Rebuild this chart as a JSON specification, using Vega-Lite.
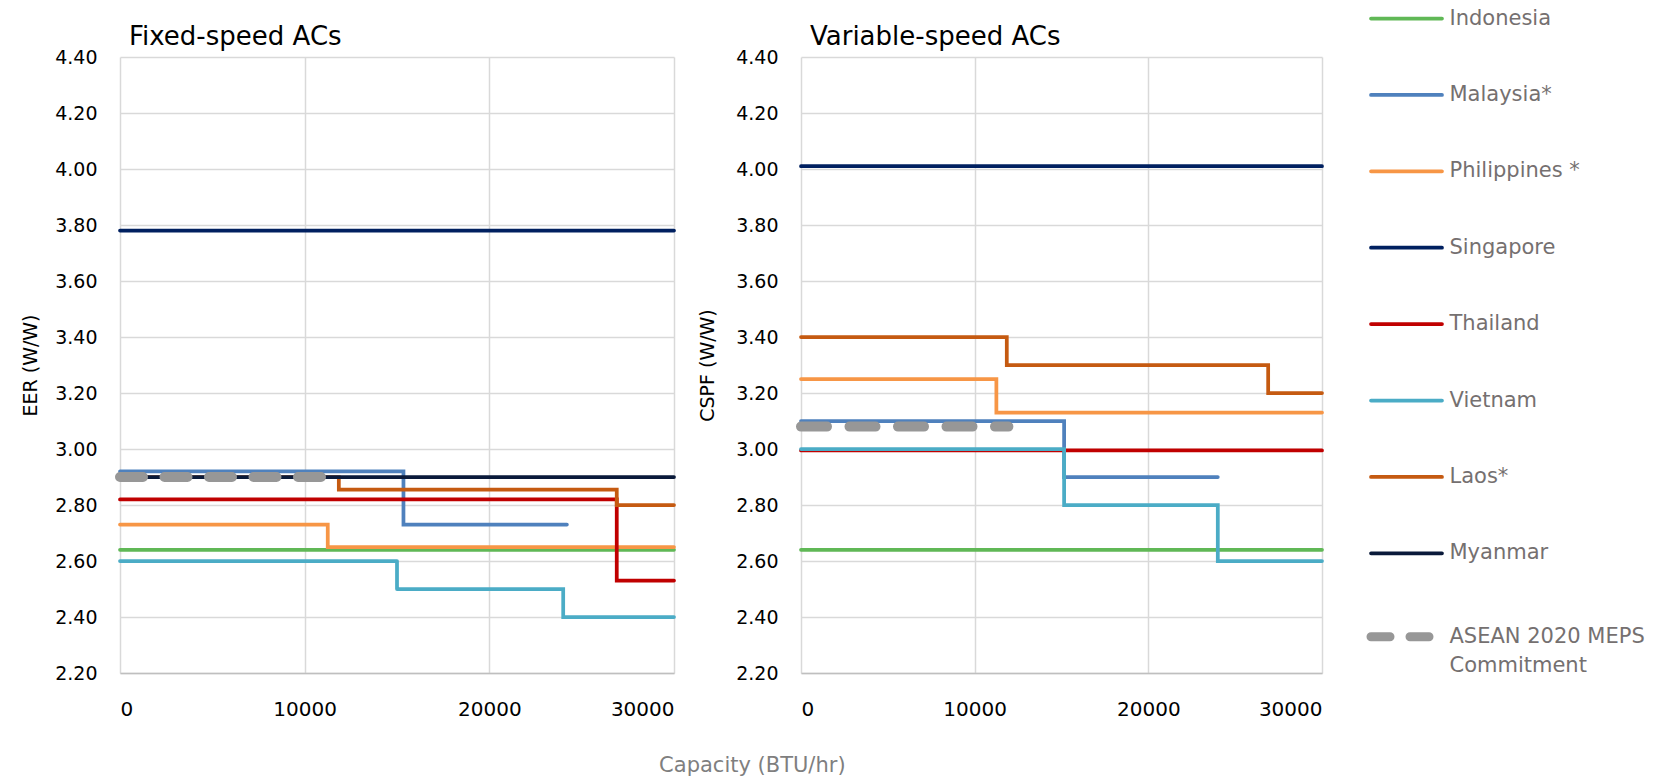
{
  "$schema": "https://vega.github.io/schema/vega-lite/v6.json",
  "description": "Air-conditioner efficiency standards (MEPS) by cooling capacity, fixed- and variable-speed units",
  "background": "white",
  "padding": {"left": 21, "top": 8, "right": 10, "bottom": 5},
  "bounds": "flush",
  "config": {
    "font": "DejaVu Sans",
    "view": {"stroke": null},
    "concat": {"spacing": 127},
    "axis": {
      "grid": true,
      "gridColor": "#D9D9D9",
      "gridWidth": 1.5,
      "ticks": false,
      "labelFont": "DejaVu Sans",
      "labelFontSize": 19,
      "labelColor": "#000000",
      "titleFont": "DejaVu Sans",
      "titleFontSize": 19,
      "titleFontWeight": "normal",
      "titleColor": "#000000"
    },
    "legend": {
      "orient": "none",
      "legendX": 1276,
      "legendY": -49,
      "padding": 0,
      "title": null,
      "columns": 1,
      "symbolType": "M-2.958,0H2.958",
      "symbolSize": 576,
      "symbolStrokeWidth": 3.75,
      "rowPadding": 54.4,
      "labelOffset": 32.5,
      "labelFont": "DejaVu Sans",
      "labelFontSize": 21,
      "labelColor": "#757070",
      "labelLimit": 300,
      "labelBaseline": "middle"
    },
    "title": {"font": "DejaVu Sans", "fontWeight": "normal"}
  },
  "data": {
    "values": [
      {"panel": "fixed", "country": "Indonesia", "capacity": 0, "value": 2.64},
      {"panel": "fixed", "country": "Indonesia", "capacity": 30000, "value": 2.64},
      {"panel": "fixed", "country": "Malaysia*", "capacity": 0, "value": 2.92},
      {"panel": "fixed", "country": "Malaysia*", "capacity": 15350, "value": 2.73},
      {"panel": "fixed", "country": "Malaysia*", "capacity": 24200, "value": 2.73},
      {"panel": "fixed", "country": "Philippines *", "capacity": 0, "value": 2.73},
      {"panel": "fixed", "country": "Philippines *", "capacity": 11250, "value": 2.65},
      {"panel": "fixed", "country": "Philippines *", "capacity": 30000, "value": 2.65},
      {"panel": "fixed", "country": "Singapore", "capacity": 0, "value": 3.78},
      {"panel": "fixed", "country": "Singapore", "capacity": 30000, "value": 3.78},
      {"panel": "fixed", "country": "Thailand", "capacity": 0, "value": 2.82},
      {"panel": "fixed", "country": "Thailand", "capacity": 26900, "value": 2.53},
      {"panel": "fixed", "country": "Thailand", "capacity": 30000, "value": 2.53},
      {"panel": "fixed", "country": "Vietnam", "capacity": 0, "value": 2.6},
      {"panel": "fixed", "country": "Vietnam", "capacity": 15000, "value": 2.5},
      {"panel": "fixed", "country": "Vietnam", "capacity": 24000, "value": 2.4},
      {"panel": "fixed", "country": "Vietnam", "capacity": 30000, "value": 2.4},
      {"panel": "fixed", "country": "Laos*", "capacity": 0, "value": 2.9},
      {"panel": "fixed", "country": "Laos*", "capacity": 11850, "value": 2.855},
      {"panel": "fixed", "country": "Laos*", "capacity": 26900, "value": 2.8},
      {"panel": "fixed", "country": "Laos*", "capacity": 30000, "value": 2.8},
      {"panel": "fixed", "country": "Myanmar", "capacity": 0, "value": 2.9},
      {"panel": "fixed", "country": "Myanmar", "capacity": 30000, "value": 2.9},
      {"panel": "fixed", "country": "ASEAN 2020 MEPS Commitment", "capacity": 0, "value": 2.9},
      {"panel": "fixed", "country": "ASEAN 2020 MEPS Commitment", "capacity": 11942, "value": 2.9},
      {"panel": "variable", "country": "Indonesia", "capacity": 0, "value": 2.64},
      {"panel": "variable", "country": "Indonesia", "capacity": 30000, "value": 2.64},
      {"panel": "variable", "country": "Malaysia*", "capacity": 0, "value": 3.1},
      {"panel": "variable", "country": "Malaysia*", "capacity": 15150, "value": 2.9},
      {"panel": "variable", "country": "Malaysia*", "capacity": 24000, "value": 2.9},
      {"panel": "variable", "country": "Philippines *", "capacity": 0, "value": 3.25},
      {"panel": "variable", "country": "Philippines *", "capacity": 11250, "value": 3.13},
      {"panel": "variable", "country": "Philippines *", "capacity": 30000, "value": 3.13},
      {"panel": "variable", "country": "Singapore", "capacity": 0, "value": 4.01},
      {"panel": "variable", "country": "Singapore", "capacity": 30000, "value": 4.01},
      {"panel": "variable", "country": "Thailand", "capacity": 0, "value": 2.995},
      {"panel": "variable", "country": "Thailand", "capacity": 30000, "value": 2.995},
      {"panel": "variable", "country": "Vietnam", "capacity": 0, "value": 3.0},
      {"panel": "variable", "country": "Vietnam", "capacity": 15150, "value": 2.8},
      {"panel": "variable", "country": "Vietnam", "capacity": 24000, "value": 2.6},
      {"panel": "variable", "country": "Vietnam", "capacity": 30000, "value": 2.6},
      {"panel": "variable", "country": "Laos*", "capacity": 0, "value": 3.4},
      {"panel": "variable", "country": "Laos*", "capacity": 11850, "value": 3.3},
      {"panel": "variable", "country": "Laos*", "capacity": 26900, "value": 3.2},
      {"panel": "variable", "country": "Laos*", "capacity": 30000, "value": 3.2},
      {"panel": "variable", "country": "ASEAN 2020 MEPS Commitment", "capacity": 0, "value": 3.08},
      {"panel": "variable", "country": "ASEAN 2020 MEPS Commitment", "capacity": 11942, "value": 3.08}
    ]
  },
  "title": {
    "text": "Capacity (BTU/hr)",
    "orient": "bottom",
    "anchor": "middle",
    "fontSize": 21,
    "color": "#7F7F7F",
    "offset": 36,
    "dx": -81
  },
  "hconcat": [
    {
      "width": 554,
      "height": 616,
      "title": {"text": "Fixed-speed ACs", "anchor": "start", "frame": "group", "fontSize": 26, "color": "#000000", "dx": 9, "offset": -2},
      "transform": [{"filter": "datum.panel == 'fixed'"}],
      "encoding": {
        "x": {"field": "capacity", "type": "quantitative", "title": null,
              "scale": {"domain": [0, 30000], "nice": false},
              "axis": {"values": [0, 10000, 20000, 30000], "format": "d", "labelFontSize": 20, "labelPadding": 26, "domain": true, "domainColor": "#BFBFBF", "domainWidth": 1.5}},
        "y": {"field": "value", "type": "quantitative", "title": "EER (W/W)",
              "scale": {"domain": [2.2, 4.4], "nice": false, "zero": false},
              "axis": {"values": [2.2, 2.4, 2.6, 2.8, 3.0, 3.2, 3.4, 3.6, 3.8, 4.0, 4.2, 4.4], "format": ".2f", "labelPadding": 23, "titlePadding": 14, "domain": false}},
        "color": {"field": "country", "type": "nominal",
                  "scale": {"domain": ["Indonesia", "Malaysia*", "Philippines *", "Singapore", "Thailand", "Vietnam", "Laos*", "Myanmar", "ASEAN 2020 MEPS Commitment"],
                            "range": ["#60B856", "#4F81BD", "#F79646", "#002060", "#C00000", "#4BACC6", "#C55A11", "#0A1A3A", "#979797"]},
                  "legend": {
                    "labelExpr": "datum.label == 'ASEAN 2020 MEPS Commitment' ? ['ASEAN 2020 MEPS', 'Commitment'] : datum.label",
                    "encode": {
                      "symbols": {"update": {"strokeWidth": {"signal": "datum.value === 'ASEAN 2020 MEPS Commitment' ? 9 : 3.75"}, "strokeCap": {"value": "round"}}},
                      "labels": {"update": {"lineHeight": {"value": 29}}}
                    }
                  }}
      },
      "layer": [
        {
          "transform": [{"filter": "datum.country != 'ASEAN 2020 MEPS Commitment'"}],
          "mark": {"type": "line", "interpolate": "step-after", "strokeCap": "round", "strokeJoin": "miter", "strokeWidth": 3.75},
          "encoding": {
            "strokeDash": {"field": "country", "type": "nominal",
                  "scale": {"domain": ["Indonesia", "Malaysia*", "Philippines *", "Singapore", "Thailand", "Vietnam", "Laos*", "Myanmar", "ASEAN 2020 MEPS Commitment"],
                            "range": [[1, 0], [1, 0], [1, 0], [1, 0], [1, 0], [1, 0], [1, 0], [1, 0], [19, 20]]},
                  "legend": {
                    "labelExpr": "datum.label == 'ASEAN 2020 MEPS Commitment' ? ['ASEAN 2020 MEPS', 'Commitment'] : datum.label",
                    "encode": {
                      "symbols": {"update": {"strokeWidth": {"signal": "datum.value === 'ASEAN 2020 MEPS Commitment' ? 9 : 3.75"}, "strokeCap": {"value": "round"}}},
                      "labels": {"update": {"lineHeight": {"value": 29}}}
                    }
                  }}
          }
        },
        {
          "transform": [{"filter": "datum.country == 'ASEAN 2020 MEPS Commitment'"}],
          "mark": {"type": "line", "interpolate": "step-after", "strokeCap": "round", "strokeWidth": 10, "strokeDash": [23, 21.5]}
        }
      ]
    },
    {
      "width": 521,
      "height": 616,
      "title": {"text": "Variable-speed ACs", "anchor": "start", "frame": "group", "fontSize": 26, "color": "#000000", "dx": 9, "offset": -2},
      "transform": [{"filter": "datum.panel == 'variable'"}],
      "encoding": {
        "x": {"field": "capacity", "type": "quantitative", "title": null,
              "scale": {"domain": [0, 30000], "nice": false},
              "axis": {"values": [0, 10000, 20000, 30000], "format": "d", "labelFontSize": 20, "labelPadding": 26, "domain": true, "domainColor": "#BFBFBF", "domainWidth": 1.5}},
        "y": {"field": "value", "type": "quantitative", "title": "CSPF (W/W)",
              "scale": {"domain": [2.2, 4.4], "nice": false, "zero": false},
              "axis": {"values": [2.2, 2.4, 2.6, 2.8, 3.0, 3.2, 3.4, 3.6, 3.8, 4.0, 4.2, 4.4], "format": ".2f", "labelPadding": 23, "titlePadding": 18, "domain": false}},
        "color": {"field": "country", "type": "nominal",
                  "scale": {"domain": ["Indonesia", "Malaysia*", "Philippines *", "Singapore", "Thailand", "Vietnam", "Laos*", "Myanmar", "ASEAN 2020 MEPS Commitment"],
                            "range": ["#60B856", "#4F81BD", "#F79646", "#002060", "#C00000", "#4BACC6", "#C55A11", "#0A1A3A", "#979797"]}}
      },
      "layer": [
        {
          "transform": [{"filter": "datum.country != 'ASEAN 2020 MEPS Commitment'"}],
          "mark": {"type": "line", "interpolate": "step-after", "strokeCap": "round", "strokeJoin": "miter", "strokeWidth": 3.75},
          "encoding": {
            "strokeDash": {"field": "country", "type": "nominal",
                  "scale": {"domain": ["Indonesia", "Malaysia*", "Philippines *", "Singapore", "Thailand", "Vietnam", "Laos*", "Myanmar", "ASEAN 2020 MEPS Commitment"],
                            "range": [[1, 0], [1, 0], [1, 0], [1, 0], [1, 0], [1, 0], [1, 0], [1, 0], [19, 20]]}}
          }
        },
        {
          "transform": [{"filter": "datum.country == 'ASEAN 2020 MEPS Commitment'"}],
          "mark": {"type": "line", "interpolate": "step-after", "strokeCap": "round", "strokeWidth": 10, "strokeDash": [26, 22.5]}
        }
      ]
    }
  ],
  "resolve": {"scale": {"color": "shared", "strokeDash": "shared"}}
}
